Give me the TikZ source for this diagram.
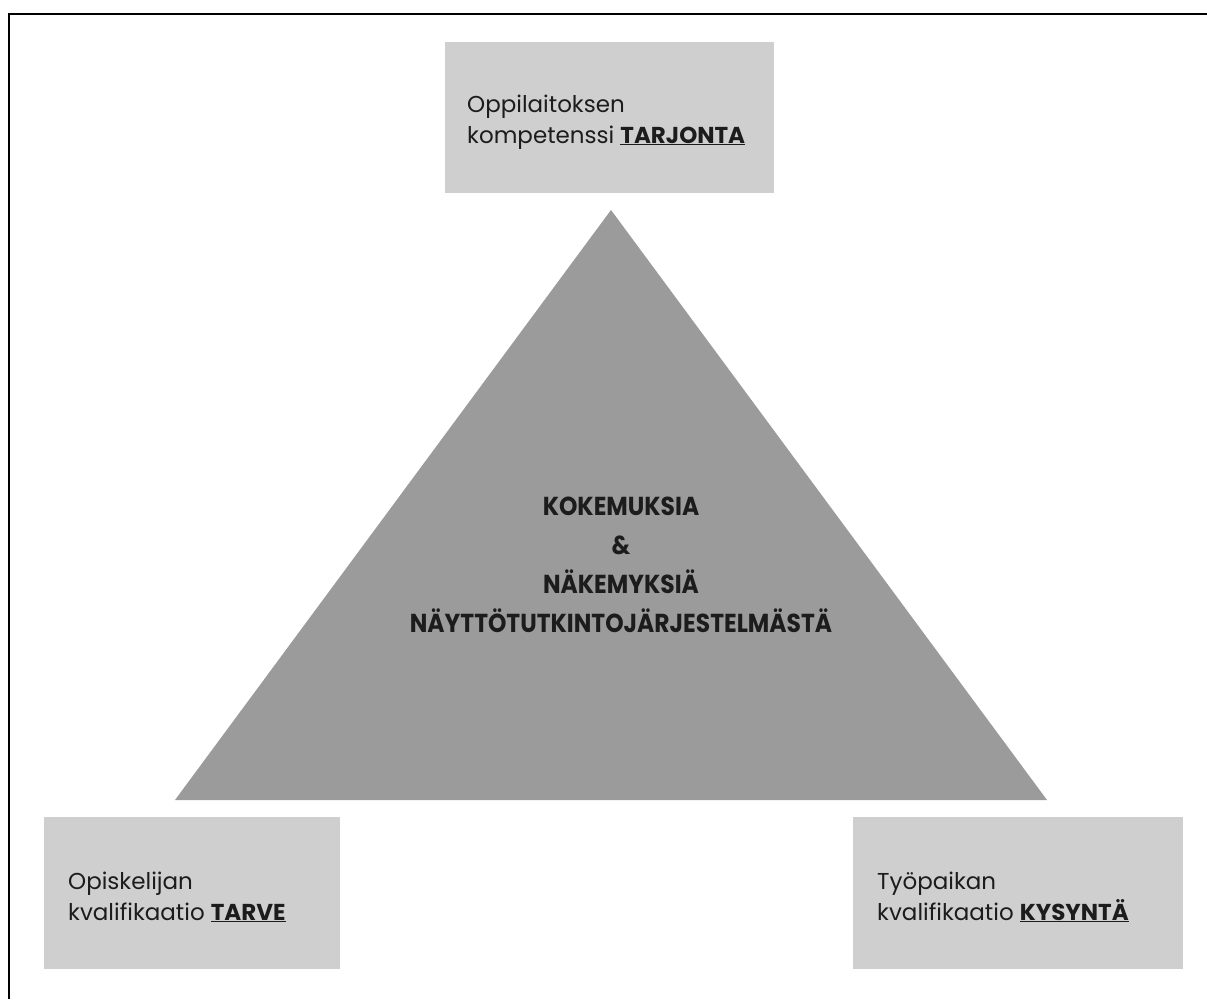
\documentclass[tikz,border=0pt]{standalone}
\usepackage{fontspec}
\setmainfont{Poppins}
\newfontfamily\centrefont[FakeStretch=0.9]{Poppins}
\definecolor{boxgray}{HTML}{CFCFCF}
\definecolor{trigray}{HTML}{9B9B9B}
\definecolor{ink}{HTML}{1C1C1C}
\tikzset{
  panel/.style={fill=boxgray, draw=none},
  label/.style={anchor=base west, inner sep=0pt, text=ink, font=\fontsize{23}{30.5}\selectfont, align=left},
  centre/.style={inner sep=0pt, text=ink, font=\centrefont\fontsize{26}{38.7}\selectfont\bfseries, align=center}
}
\newcommand{\ul}[1]{\underline{\textbf{#1}}}
\begin{document}
\begin{tikzpicture}[x=1pt,y=-1pt]
\useasboundingbox (0,0) rectangle (1207,999);
\fill[white] (0,0) rectangle (1207,999);
% frame
\coordinate (fb) at (9,999);
\coordinate (fc) at (9,14);
\coordinate (fr) at (1207,14);
\draw[line width=2.2pt, black] (fb) -- (fc) -- (fr);
% triangle
\coordinate (ta) at (611,210);
\coordinate (tl) at (175,800);
\coordinate (tr) at (1047,800);
\fill[trigray] (ta) -- (tl) -- (tr) -- cycle;
% boxes
\fill[panel] (445,42) rectangle (774,193);
\fill[panel] (44,817) rectangle (340,969);
\fill[panel] (853,817) rectangle (1183,969);
% texts
\node[label] (top) at (467,143) {Oppilaitoksen\\kompetenssi \ul{TARJONTA}};
\node[label] (bl) at (68,920) {Opiskelijan\\kvalifikaatio \ul{TARVE}};
\node[label] (br) at (877,920) {Työpaikan\\kvalifikaatio \ul{KYSYNTÄ}};
\node[centre, anchor=base] (mid) at (621,632) {KOKEMUKSIA\\\&\\NÄKEMYKSIÄ\\NÄYTTÖTUTKINTOJÄRJESTELMÄSTÄ};
\end{tikzpicture}
\end{document}
